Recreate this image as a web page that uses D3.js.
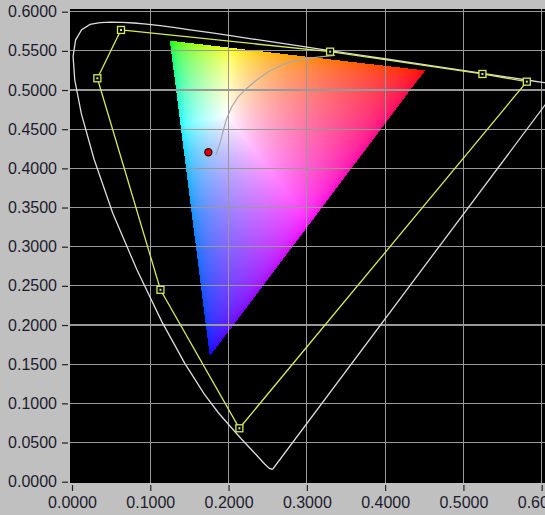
<!DOCTYPE html>
<html>
<head>
<meta charset="utf-8">
<script src="https://cdn.jsdelivr.net/npm/d3@7"></script>
<style>
  body { margin: 0; background: #c0c0c0; }
  svg { display: block; }
</style>
</head>
<body>
<svg id="chart" width="545" height="515"></svg>
<script>
// spectral locus, u'v' (380 ... 700 nm)
const locusU = [0.2568, 0.2557, 0.2522, 0.2461, 0.2347, 0.2161, 0.1877, 0.1690, 0.1441, 0.1147,
  0.0828, 0.0521, 0.0282, 0.0119, 0.0035, 0.0014, 0.0046, 0.0123, 0.0231, 0.0360, 0.0501,
  0.0643, 0.0792, 0.0953, 0.1127, 0.1319, 0.1531, 0.1766, 0.2026, 0.2312, 0.2623, 0.2960,
  0.3315, 0.3681, 0.4035, 0.4692, 0.5203, 0.5565, 0.5830, 0.6005, 0.6234];
const locusV = [0.0166, 0.0159, 0.0169, 0.0226, 0.0350, 0.0549, 0.0871, 0.1119, 0.1510, 0.2044,
  0.2708, 0.3427, 0.4117, 0.4698, 0.5131, 0.5432, 0.5638, 0.5770, 0.5837, 0.5861, 0.5868,
  0.5865, 0.5856, 0.5841, 0.5821, 0.5796, 0.5766, 0.5732, 0.5694, 0.5651, 0.5604, 0.5554,
  0.5501, 0.5446, 0.5393, 0.5296, 0.5219, 0.5165, 0.5125, 0.5099, 0.5065];

// yellow gamut polygon
const polyU = [0.0626, 0.3297, 0.5243, 0.5810, 0.2138, 0.1130, 0.0324];
const polyV = [0.5767, 0.5490, 0.5205, 0.5107, 0.0682, 0.2450, 0.5150];

// grey curve
const curveU = [0.1836, 0.1891, 0.1934, 0.1977, 0.2041, 0.2125, 0.2233, 0.2360, 0.2509,
  0.2680, 0.2850, 0.3020, 0.3191, 0.3361];
const curveV = [0.4171, 0.4320, 0.4490, 0.4639, 0.4787, 0.4915, 0.5022, 0.5128, 0.5234,
  0.5320, 0.5375, 0.5405, 0.5426, 0.5441];

// colour triangle corners: R, G, B
const gamutU = [0.451, 0.125, 0.176];
const gamutV = [0.525, 0.563, 0.160];

// red point
const pointU = [0.1742];
const pointV = [0.4205];

const uTicks = [0, 0.1, 0.2, 0.3, 0.4, 0.5, 0.6];
const vTicks = [0, 0.05, 0.1, 0.15, 0.2, 0.25, 0.3, 0.35, 0.4, 0.45, 0.5, 0.55, 0.6];

const svg = d3.select("#chart");
const plot = {left: 70, top: 9, width: 475, height: 474};

const x = d3.scaleLinear().domain([0, 0.6]).range([72, 541.7]);
const y = d3.scaleLinear().domain([0, 0.6]).range([481.7, 11.7]);

svg.append("defs").append("clipPath").attr("id", "clip")
  .append("rect")
  .attr("x", plot.left).attr("y", plot.top)
  .attr("width", plot.width).attr("height", plot.height);

svg.append("rect")
  .attr("x", plot.left).attr("y", plot.top)
  .attr("width", plot.width).attr("height", plot.height)
  .attr("fill", "#000");

// colour triangle raster
function chromaColour(u, v) {
  const d = 6 * u - 16 * v + 12;
  const cx = 9 * u / d, cy = 4 * v / d;
  const X = cx / cy, Y = 1, Z = (1 - cx - cy) / cy;
  let r = 3.2406 * X - 1.5372 * Y - 0.4986 * Z;
  let g = -0.9689 * X + 1.8758 * Y + 0.0415 * Z;
  let b = 0.0557 * X - 0.2040 * Y + 1.0570 * Z;
  r = Math.max(r, 0); g = Math.max(g, 0); b = Math.max(b, 0);
  const m = Math.max(r, g, b);
  const gam = c => {
    c = c / m;
    return c <= 0.0031308 ? 12.92 * c : 1.055 * Math.pow(c, 1 / 2.4) - 0.055;
  };
  return [gam(r) * 255, gam(g) * 255, gam(b) * 255];
}

const canvas = document.createElement("canvas");
canvas.width = plot.width;
canvas.height = plot.height;
const ctx = canvas.getContext("2d");
const img = ctx.createImageData(plot.width, plot.height);
const [u1, u2, u3] = gamutU, [v1, v2, v3] = gamutV;
const det = (v2 - v3) * (u1 - u3) + (u3 - u2) * (v1 - v3);
for (let j = 0; j < plot.height; j++) {
  const v = y.invert(plot.top + j + 0.5);
  for (let i = 0; i < plot.width; i++) {
    const u = x.invert(plot.left + i + 0.5);
    const a = ((v2 - v3) * (u - u3) + (u3 - u2) * (v - v3)) / det;
    const b = ((v3 - v1) * (u - u3) + (u1 - u3) * (v - v3)) / det;
    const c = 1 - a - b;
    if (a < 0 || b < 0 || c < 0) continue;
    const col = chromaColour(u, v);
    const k = (j * plot.width + i) * 4;
    img.data[k] = col[0];
    img.data[k + 1] = col[1];
    img.data[k + 2] = col[2];
    img.data[k + 3] = 255;
  }
}
ctx.putImageData(img, 0, 0);

svg.append("image")
  .attr("x", plot.left).attr("y", plot.top)
  .attr("width", plot.width).attr("height", plot.height)
  .attr("href", canvas.toDataURL());

// grid
const grid = svg.append("g").attr("clip-path", "url(#clip)")
  .attr("stroke", "#999").attr("stroke-width", 1.2)
  .attr("shape-rendering", "crispEdges");
grid.selectAll(".gx").data(uTicks.slice(1)).enter().append("line")
  .attr("x1", d => x(d)).attr("x2", d => x(d))
  .attr("y1", plot.top).attr("y2", plot.top + plot.height);
grid.selectAll(".gy").data(vTicks.slice(1)).enter().append("line")
  .attr("x1", plot.left).attr("x2", plot.left + plot.width)
  .attr("y1", d => y(d)).attr("y2", d => y(d));

const layer = svg.append("g").attr("clip-path", "url(#clip)");
const line = d3.line().x(d => x(d[0])).y(d => y(d[1]));

// grey curve
layer.append("path")
  .attr("d", line(d3.zip(curveU, curveV)))
  .attr("fill", "none").attr("stroke", "#a8a8a8").attr("stroke-width", 1.2);

// spectral locus
layer.append("path")
  .attr("d", line(d3.zip(locusU, locusV)) + "Z")
  .attr("fill", "none").attr("stroke", "#dcdcdc").attr("stroke-width", 1.3);

// yellow polygon
const polyPts = d3.zip(polyU, polyV);
layer.append("path")
  .attr("d", line(polyPts) + "Z")
  .attr("fill", "none").attr("stroke", "#d4ea5e").attr("stroke-width", 1.3);

const marks = layer.selectAll(".mk").data(polyPts).enter().append("g")
  .attr("transform", d => `translate(${x(d[0])},${y(d[1])})`);
marks.append("rect")
  .attr("x", -3.5).attr("y", -3.5).attr("width", 7).attr("height", 7)
  .attr("fill", "#000").attr("stroke", "#d4ea5e").attr("stroke-width", 1.3);
marks.append("rect")
  .attr("x", -1).attr("y", -1).attr("width", 2).attr("height", 2)
  .attr("fill", "#d4ea5e");

// red point
layer.selectAll(".pt").data(d3.zip(pointU, pointV)).enter().append("circle")
  .attr("cx", d => x(d[0])).attr("cy", d => y(d[1])).attr("r", 3.6)
  .attr("fill", "#e00000").attr("stroke", "#300").attr("stroke-width", 1.2);

// axes
const fmt = d3.format(".4f");
const yAxis = svg.append("g").attr("transform", "translate(68,0)")
  .call(d3.axisLeft(y).tickValues(vTicks).tickFormat(fmt).tickSize(6).tickPadding(5));
const xAxis = svg.append("g").attr("transform", "translate(0,485)")
  .call(d3.axisBottom(x).tickValues(uTicks).tickFormat(fmt).tickSize(6).tickPadding(6));

svg.selectAll(".domain").remove();
svg.selectAll(".tick line").attr("stroke", "#222").attr("stroke-width", 1.2);
svg.selectAll(".tick text")
  .attr("fill", "#1c1c2c")
  .style("font", "16px 'Liberation Sans', Arial, sans-serif");
</script>
</body>
</html>
